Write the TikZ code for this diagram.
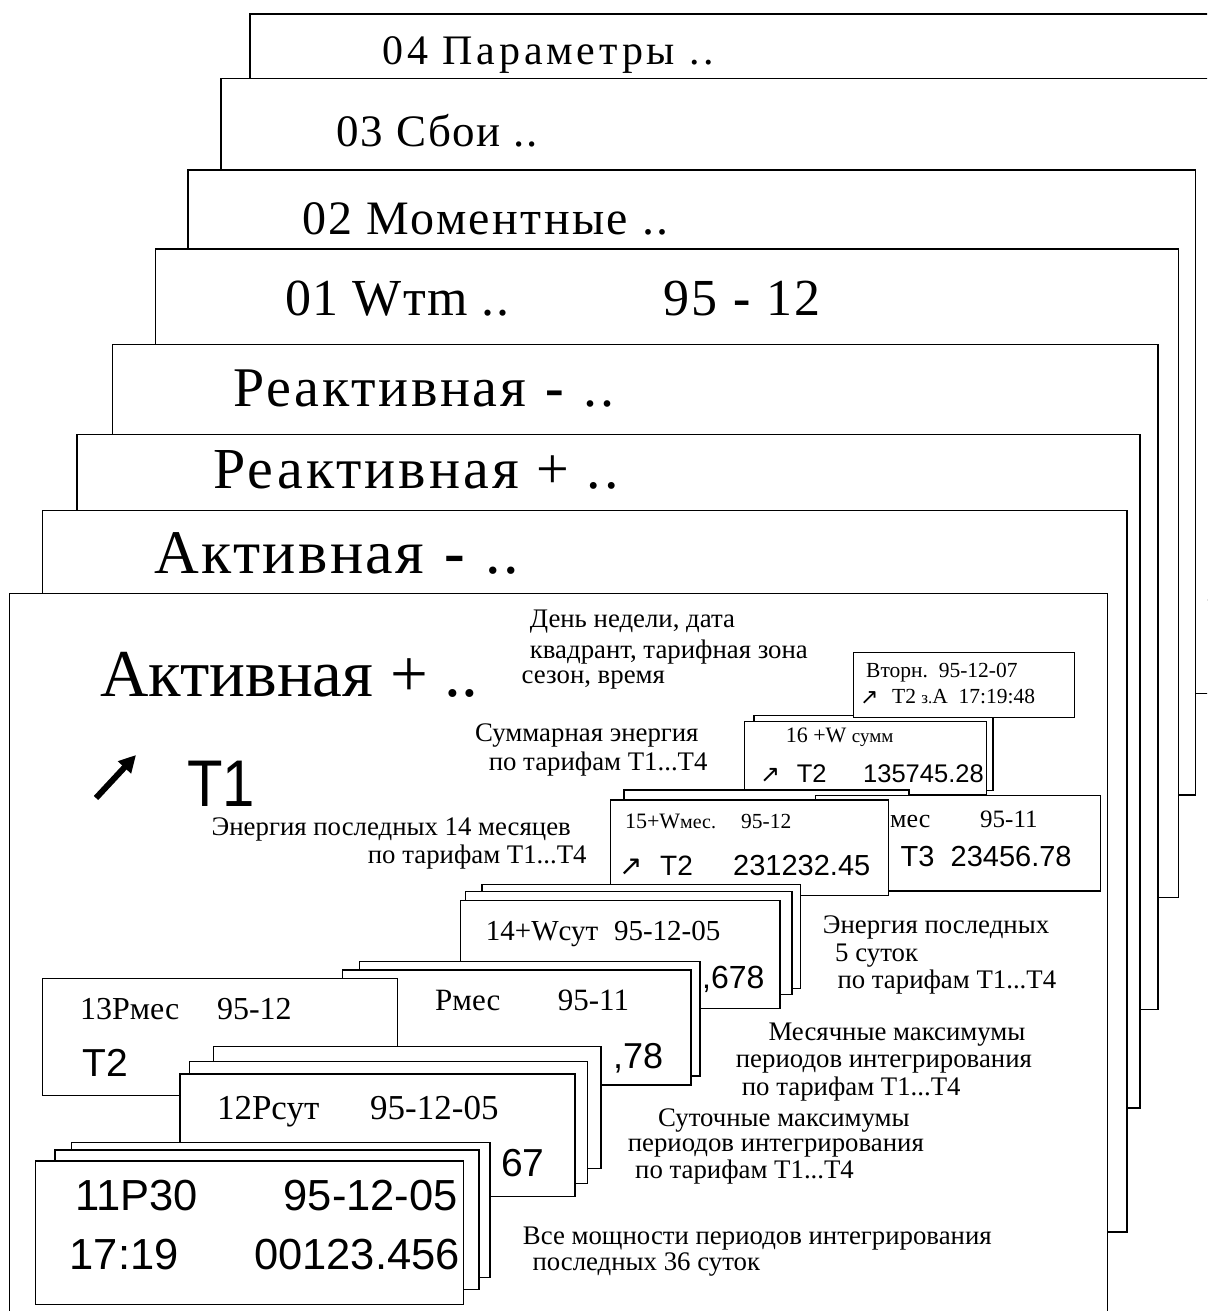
\documentclass[tikz,border=0pt]{standalone}
\usepackage{fontspec}
\usepackage{graphicx}
\setmainfont{Liberation Serif}
\newfontfamily\sansf{Liberation Sans}
\newfontfamily\arrf{DejaVu Sans}
\usetikzlibrary{arrows.meta}
\newcommand\fsz[1]{\fontsize{#1}{#1}\selectfont}
\newcommand\lsp[1]{\addfontfeature{LetterSpace=#1}}
\begin{document}
\begin{tikzpicture}[x=1pt,y=-1pt,
  panel/.style={draw=black, fill=white, line width=1.4pt},
  card/.style={draw=black, fill=white, line width=1.4pt},
  lbl/.style={inner sep=0pt, anchor=base west},
  big/.style={lbl, font=\fsz{#1}},
  note/.style={lbl, font=\fsz{26.8}},
  sans/.style={lbl, font=\sansf\fsz{#1}},
]
\useasboundingbox (0,0) rectangle (1207,1311);
\clip (0,0) rectangle (1207,1311);
\fill[white] (0,0) rectangle (1207,1311);

% ---- panels, back to front
\draw[panel] (250,14) rectangle (1250,600);
\node[big=42] (t04) at (382.6,65) {\lsp{9}04 Параметры ..};
\draw[panel] (221,78.7) rectangle (1240,693.3);
\node[big=45] (t03) at (336.4,146.6) {\lsp{3.6}03 Сбои ..};
\draw[panel] (188,170) rectangle (1195.3,795);
\node[big=48] (t02) at (301.8,234.2) {\lsp{5}02 Моментные ..};
\draw[panel] (155.5,249) rectangle (1178.7,897.7);
\node[big=52] (t01) at (284.8,315) {\lsp{2.6}01 Wтm ..};
\node[big=52] (t01b) at (663.6,315) {\lsp{3}95 \textbf{-} 12};
\draw[panel] (112.4,344.6) rectangle (1158,1009.7);
\node[big=56] (trm) at (233.3,406.4) {\lsp{4.75}Реактивная \textbf{-} ..};
\draw[panel] (77,434.4) rectangle (1140,1108);
\node[big=58] (trp) at (213.2,488) {\lsp{5.2}Реактивная + ..};
\draw[panel] (42.3,510.5) rectangle (1127,1232);
\node[big=62] (tam) at (154,573) {\lsp{4}Активная \textbf{-} ..};
\draw[panel] (9.5,593.7) rectangle (1107.3,1340);
\node[big=67] (tap) at (100,696) {Активная + ..};
\draw[line width=6pt, -{Triangle[length=17pt,width=17pt]}] (96,798) -- (136,755);
\node[sans=66] (tT1) at (187,806.7) {\scalebox{0.88}[1]{Т1}};

% ---- annotations
\node[note] (n1) at (529.7,627.7) {День недели, дата};
\node[note] (n2) at (529.7,658.3) {квадрант, тарифная зона};
\node[note] (n3) at (521.5,683.3) {сезон, время};
\node[note] (n4) at (475,741.7) {Суммарная энергия};
\node[note] (n5) at (488.6,770) {по тарифам Т1...Т4};
\node[note] (n6) at (211.5,835) {Энергия последных 14 месяцев};
\node[note] (n7) at (367.7,863.3) {по тарифам Т1...Т4};
\node[note] (n8) at (822.7,933.2) {Энергия последных};
\node[note] (n9) at (835,961.8) {5 суток};
\node[note] (n10) at (837.3,988.6) {по тарифам Т1...Т4};
\node[note] (n11) at (768.3,1040.4) {Месячные максимумы};
\node[note] (n12) at (735.7,1067) {периодов интегрирования};
\node[note] (n13) at (741.7,1095.7) {по тарифам Т1...Т4};
\node[note] (n14) at (658,1126.7) {Суточные максимумы};
\node[note] (n15) at (627.6,1151.7) {периодов интегрирования};
\node[note] (n16) at (635,1178.3) {по тарифам Т1...Т4};
\node[note] (n17) at (522.7,1244.3) {Все мощности периодов интегрирования};
\node[note] (n18) at (532.3,1270.7) {последных 36 суток};

% ---- 16 stack
\draw[card] (754,715.7) rectangle (993,790.7);
\draw[card] (744.3,721.4) rectangle (986.3,795);
\node[big=22] (c16a) at (785.6,742.7) {16 +W {\fsz{19}сумм}};
\node[lbl, font=\arrf\fsz{24}] (c16r) at (760,782.3) {↗};
\node[sans=25.5] (c16b) at (796.7,782.3) {Т2};
\node[sans=25.5] (c16c) at (863,782.3) {135745.28};
% ---- day box
\draw[card] (853.7,652.7) rectangle (1074.3,717.7);
\node[big=21.5] (cda) at (866,677) {Вторн.\ \ 95-12-07};
\node[lbl, font=\arrf\fsz{22}] (cdr) at (860,704) {↗};
\node[big=21.5] (cdb) at (892,703) {Т2 {\fsz{17}з.}А\ \ 17:19:48};
% ---- 15 stack
\draw[card] (623.8,790) rectangle (909,885);
\draw[card] (815.7,795.7) rectangle (1100.7,891);
\node[big=26] (c15p) at (890,827.7) {мес};
\node[big=25] (c15q) at (980,827.7) {95-11};
\node[sans=29] (c15r) at (900.5,866.7) {Т3\ \ 23456.78};
\draw[card] (610.3,800) rectangle (888.4,895.7);
\node[big=22] (c15a) at (624.8,828.7) {15+W{\fsz{20}мес.}};
\node[big=21.5] (c15b) at (741,828.7) {95-12};
\node[lbl, font=\arrf\fsz{28}] (c15ar) at (619,875) {↗};
\node[sans=28] (c15c) at (660,875) {Т2};
\node[sans=29] (c15d) at (733,875) {231232.45};
% ---- 14 stack
\draw[card] (482,884.3) rectangle (800.3,988.6);
\draw[card] (465.3,891.4) rectangle (792,994.6);
\draw[card] (460.7,900.7) rectangle (780,1008.3);
\node[big=29] (c14a) at (485.7,940.7) {14+Wсут};
\node[big=29] (c14b) at (613.8,940.7) {95-12-05};
\node[sans=32] (c14c) at (702,988.3) {,678};
% ---- Pмес stack
\draw[card] (359.2,961.7) rectangle (700,1076);
\draw[card] (342.3,970) rectangle (690.8,1085);
\node[big=31] (cpa) at (435,1010) {Рмес};
\node[big=31] (cpb) at (557.7,1010) {95-11};
\node[sans=36] (cpc) at (613,1068.3) {,78};
% ---- 13
\draw[card] (42.3,978.3) rectangle (397.4,1095.7);
\node[big=32] (c13a) at (80,1019.3) {13Рмес};
\node[big=32] (c13b) at (216.8,1019.3) {95-12};
\node[sans=39] (c13c) at (82,1076.7) {Т2};
% ---- 12 stack
\draw[card] (213.3,1046.7) rectangle (601,1168.3);
\draw[card] (189.3,1061.3) rectangle (587.2,1183.3);
\draw[card] (180.1,1074) rectangle (575,1196.7);
\node[big=35] (c12a) at (216.8,1119.3) {12Рсут};
\node[big=35] (c12b) at (370,1119.3) {95-12-05};
\node[sans=39] (c12c) at (501,1176.7) {67};
% ---- 11 stack
\draw[card] (71.4,1142.7) rectangle (489.8,1277.3);
\draw[card] (55,1150) rectangle (479,1289.3);
\draw[card] (35.7,1161) rectangle (463.3,1304.3);
\node[sans=43.5] (c11a) at (75,1210) {11Р30};
\node[sans=43.5] (c11b) at (283.5,1210) {95-12-05};
\node[sans=43.5] (c11c) at (69.5,1269) {17:19};
\node[sans=43.5] (c11d) at (254,1269) {00123.456};
\end{tikzpicture}
\end{document}
